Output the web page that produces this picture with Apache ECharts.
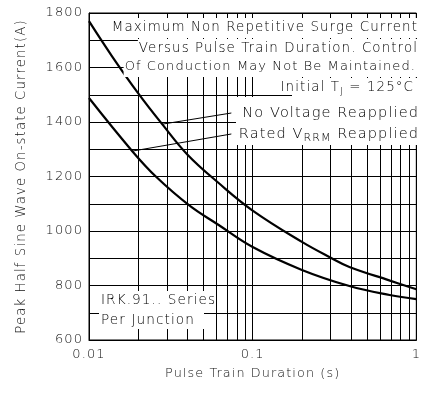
<!DOCTYPE html>
<html><head><meta charset="utf-8">
<script src="https://cdn.jsdelivr.net/npm/echarts@6/dist/echarts.min.js"></script>
<style>html,body{margin:0;padding:0;background:#fff}#c{width:424px;height:403px}</style>
</head><body><div id="c"></div>
<script>
// Data
const upperT = [0.01, 0.0138, 0.02, 0.028, 0.04, 0.062, 0.1, 0.2, 0.3, 0.39, 0.69, 1];
const upperV = [1770, 1642, 1505, 1392, 1280, 1176, 1075, 960, 902, 868, 818, 786];
const lowerT = [0.01, 0.0185, 0.0258, 0.0408, 0.062, 0.1, 0.2, 0.39, 0.687, 1];
const lowerV = [1488, 1291, 1198, 1095, 1022, 941, 857, 798, 765, 750];
const minorXTicks = [0.02,0.03,0.04,0.05,0.06,0.07,0.08,0.09,0.2,0.3,0.4,0.5,0.6,0.7,0.8,0.9];
const xTickLabels = {0.01: '0.01', 0.1: '0.1', 1: '1'};
const leaderNoVoltage = [[0.028, 1392], [0.0741, 1433]];
const leaderRated = [[0.0183, 1293], [0.0741, 1356]];

// wider glyph spacing, like the reference lettering
(function () {
  const p = CanvasRenderingContext2D.prototype;
  if (!('letterSpacing' in p)) return;
  const LS = '1.1px';
  const f = p.fillText, m = p.measureText, s = p.strokeText;
  p.fillText = function () { this.letterSpacing = LS; return f.apply(this, arguments); };
  p.strokeText = function () { this.letterSpacing = LS; return s.apply(this, arguments); };
  p.measureText = function () { this.letterSpacing = LS; return m.apply(this, arguments); };
})();

const FONT = '"DejaVu Sans", sans-serif';
const W = 200;
const chart = echarts.init(document.getElementById('c'), null, {renderer: 'canvas'});
const zip = (a, b) => a.map((x, i) => [x, b[i]]);
const TXT = '#000';
const f = px => W + ' ' + px + 'px ' + FONT;

const option = {
  animation: false,
  backgroundColor: '#fff',
  grid: {left: 89, right: 4, top: 13, bottom: 63, show: true, borderColor: '#000', borderWidth: 1, backgroundColor: 'transparent'},
  xAxis: {
    type: 'log', logBase: 10, min: 0.01, max: 1,
    name: 'Pulse Train Duration (s)', nameLocation: 'middle', nameGap: 26,
    nameTextStyle: {fontFamily: FONT, fontWeight: W, fontSize: 12.8, color: '#111'},
    axisLine: {show: true, lineStyle: {color: '#000', width: 1}},
    axisTick: {show: false},
    axisLabel: {fontFamily: FONT, fontWeight: W, fontSize: 13, color: '#111', margin: 8,
      formatter: v => xTickLabels[v] || ''},
    splitLine: {show: true, lineStyle: {color: '#000', width: 1}}
  },
  yAxis: {
    type: 'value', min: 600, max: 1800, interval: 200,
    name: 'Peak Half Sine Wave On-state Current(A)', nameLocation: 'middle', nameGap: 60,
    nameTextStyle: {fontFamily: FONT, fontWeight: W, fontSize: 13.3, color: '#111'},
    axisLine: {show: true, lineStyle: {color: '#000', width: 1}},
    axisTick: {show: false},
    axisLabel: {fontFamily: FONT, fontWeight: W, fontSize: 13, color: '#111', margin: 6, formatter: v => String(v)},
    splitLine: {show: true, lineStyle: {color: '#000', width: 1}},
    minorTick: {show: false, splitNumber: 2},
    minorSplitLine: {show: true, lineStyle: {color: '#000', width: 1}}
  },
  series: [
    {
      type: 'line', data: [], silent: true,
      markLine: {
        silent: true, symbol: 'none', label: {show: false},
        lineStyle: {color: '#000', width: 1, type: 'solid'},
        data: minorXTicks.map(v => ({xAxis: v}))
      }
    },
    {
      type: 'line', name: 'No Voltage Reapplied', data: zip(upperT, upperV), smooth: 0.4,
      showSymbol: false, lineStyle: {color: '#000', width: 2.2}, z: 5
    },
    {
      type: 'line', name: 'Rated VRRM Reapplied', data: zip(lowerT, lowerV), smooth: 0.4,
      showSymbol: false, lineStyle: {color: '#000', width: 2.2}, z: 5
    },
    {
      type: 'line', data: [], silent: true, z: 20,
      markLine: {
        silent: true, symbol: 'none', label: {show: false},
        lineStyle: {color: '#000', width: 1, type: 'solid'},
        data: [
          [{coord: leaderNoVoltage[0]}, {coord: leaderNoVoltage[1]}],
          [{coord: leaderRated[0]}, {coord: leaderRated[1]}]
        ]
      }
    }
  ],
  graphic: [
    {type: 'rect', z: 50, shape: {x: 236, y: 97, width: 183, height: 48}, style: {fill: '#fff'}},
    {type: 'rect', z: 50, shape: {x: 292, y: 78, width: 127, height: 20}, style: {fill: '#fff'}},
    {type: 'rect', z: 50, shape: {x: 99, y: 291, width: 105, height: 38}, style: {fill: '#fff'}},
    {type: 'text', z: 60, x: 419, y: 28, style: {text: 'Maximum Non Repetitive Surge Current', font: f(13.4), fill: TXT, align: 'right', verticalAlign: 'middle', backgroundColor: '#fff', padding: [3, 1, 3, 1]}},
    {type: 'text', z: 60, x: 419, y: 49, style: {text: 'Versus Pulse Train Duration. Control', font: f(13.4), fill: TXT, align: 'right', verticalAlign: 'middle', backgroundColor: '#fff', padding: [3, 1, 3, 1]}},
    {type: 'text', z: 60, x: 417, y: 67, style: {text: 'Of Conduction May Not Be Maintained.', font: f(13), fill: TXT, align: 'right', verticalAlign: 'middle', backgroundColor: '#fff', padding: [3, 1, 3, 1]}},
    {type: 'text', z: 60, x: 414, y: 88, style: {text: 'Initial T{s|J} = 125°C', font: f(13.4), fill: TXT, align: 'right', verticalAlign: 'middle',
      rich: {s: {font: f(9.5), fill: TXT, verticalAlign: 'bottom', padding: [7, 0, 0, 0]}}}},
    {type: 'text', z: 60, x: 419, y: 113, style: {text: 'No Voltage Reapplied', font: f(14.5), fill: TXT, align: 'right', verticalAlign: 'middle'}},
    {type: 'text', z: 60, x: 419, y: 134, style: {text: 'Rated V{s|RRM} Reapplied', font: f(14.5), fill: TXT, align: 'right', verticalAlign: 'middle',
      rich: {s: {font: f(11), fill: TXT, verticalAlign: 'bottom', padding: [8, 0, 0, 0]}}}},
    {type: 'text', z: 60, x: 101, y: 300, style: {text: 'IRK.91.. Series', font: f(13.6), fill: TXT, align: 'left', verticalAlign: 'middle'}},
    {type: 'text', z: 60, x: 101, y: 320, style: {text: 'Per Junction', font: f(13.6), fill: TXT, align: 'left', verticalAlign: 'middle'}}
  ]
};
chart.setOption(option);
</script>
</body></html>
